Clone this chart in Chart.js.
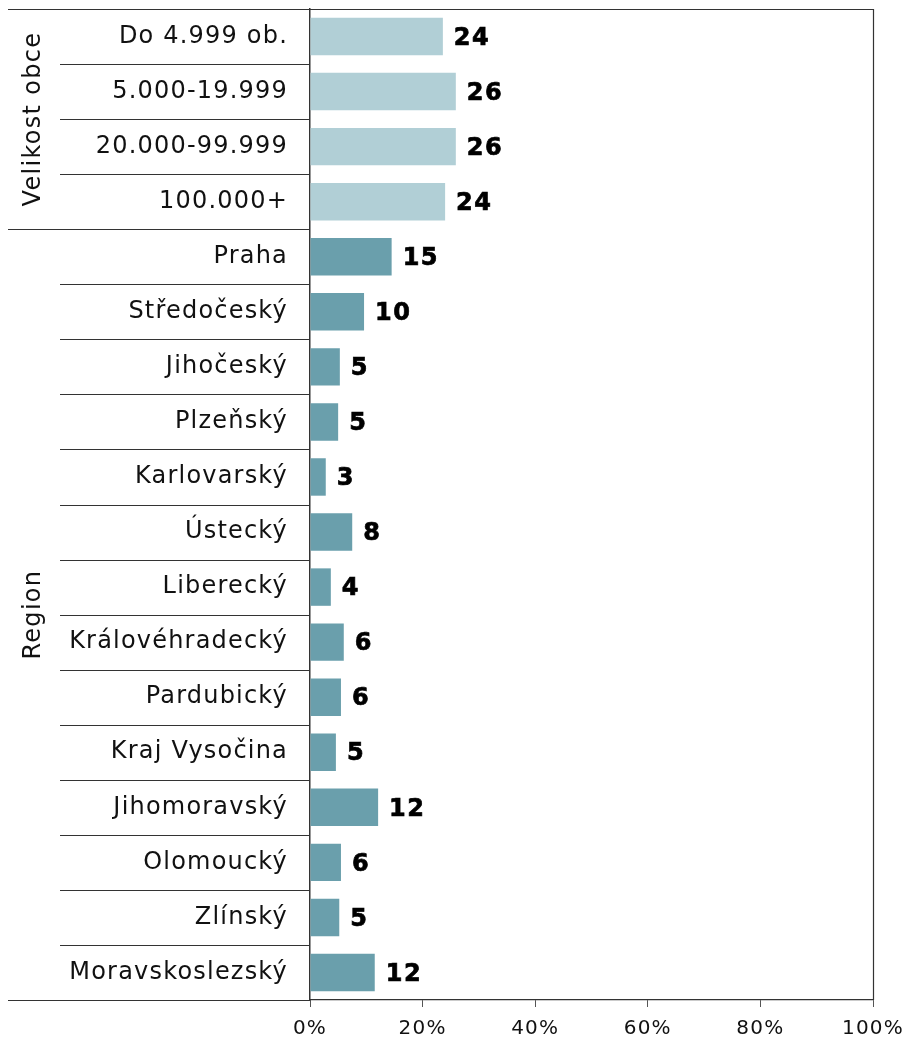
<!DOCTYPE html>
<html>
<head>
<meta charset="utf-8">
<script src="https://cdn.jsdelivr.net/npm/chart.js@4"></script>
<style>
  html, body { margin: 0; padding: 0; background: #fff; }
  #wrap { width: 904px; height: 1042px; }
</style>
</head>
<body>
<div id="wrap"><canvas id="myChart" width="904" height="1042"></canvas></div>
<script>
const categories = [
    "Do 4.999 ob.", "5.000-19.999", "20.000-99.999", "100.000+",
    "Praha", "Středočeský", "Jihočeský", "Plzeňský", "Karlovarský", "Ústecký",
    "Liberecký", "Královéhradecký", "Pardubický", "Kraj Vysočina", "Jihomoravský",
    "Olomoucký", "Zlínský", "Moravskoslezský"
];
const values = [23.6, 25.9, 25.9, 24.0, 14.5, 9.6, 5.3, 5.0, 2.8, 7.5, 3.7, 6.0, 5.5, 4.6, 12.1, 5.5, 5.2, 11.5];
const valueLabels = ["24", "26", "26", "24", "15", "10", "5", "5", "3", "8", "4", "6", "6", "5", "12", "6", "5", "12"];
const groups = [
    { name: "Velikost obce", from: 0, to: 3 },
    { name: "Region", from: 4, to: 17 }
];
const xTicks = [0, 20, 40, 60, 80, 100];

const lightColor = "#b1cfd6";
const darkColor = "#6a9fac";
const FONT = "'DejaVu Sans', Verdana, sans-serif";

const barColors = categories.map((c, i) => i < 4 ? lightColor : darkColor);

// Verdana-ish width: DejaVu with a bit of letter spacing
const spacingPlugin = {
    id: "spacing",
    beforeDraw(chart) {
        chart.ctx.letterSpacing = "1.2px";
    }
};

const framePlugin = {
    id: "frame",
    afterDraw(chart) {
        const ctx = chart.ctx;
        const area = chart.chartArea;
        const y = chart.scales.y;
        const leftEdge = 8;
        ctx.save();
        ctx.strokeStyle = "#333";
        ctx.lineWidth = 1.2;

        // row separators
        for (let i = 1; i < categories.length; i++) {
            const yy = Math.round((y.getPixelForValue(i - 1) + y.getPixelForValue(i)) / 2) + 0.5;
            const isGroupEdge = groups.some(g => g.from === i);
            ctx.beginPath();
            ctx.moveTo(isGroupEdge ? leftEdge : 60, yy);
            ctx.lineTo(area.left, yy);
            ctx.stroke();
        }
        // top, bottom and right frame
        ctx.beginPath();
        ctx.moveTo(leftEdge, area.top + 0.5);
        ctx.lineTo(area.right, area.top + 0.5);
        ctx.moveTo(leftEdge, area.bottom + 0.5);
        ctx.lineTo(area.left, area.bottom + 0.5);
        ctx.moveTo(area.right + 0.5, area.top);
        ctx.lineTo(area.right + 0.5, area.bottom);
        ctx.stroke();

        // group titles
        ctx.fillStyle = "#111";
        ctx.font = "24px " + FONT;
        ctx.letterSpacing = "1.3px";
        ctx.textAlign = "center";
        ctx.textBaseline = "middle";
        groups.forEach(g => {
            const top = g.from === 0 ? area.top :
                (y.getPixelForValue(g.from) + y.getPixelForValue(g.from - 1)) / 2;
            const bottom = g.to === categories.length - 1 ? area.bottom :
                (y.getPixelForValue(g.to) + y.getPixelForValue(g.to + 1)) / 2;
            ctx.save();
            ctx.translate(34, (top + bottom) / 2);
            ctx.rotate(-Math.PI / 2);
            ctx.fillText(g.name, 0, 0);
            ctx.restore();
        });

        // value labels (slight stroke to get closer to Verdana Bold)
        ctx.font = "bold 24px " + FONT;
        ctx.letterSpacing = "1.5px";
        ctx.textAlign = "left";
        ctx.fillStyle = "#000";
        ctx.strokeStyle = "#000";
        ctx.lineWidth = 0.7;
        const meta = chart.getDatasetMeta(0);
        meta.data.forEach((bar, i) => {
            ctx.fillText(valueLabels[i], bar.x + 11, bar.y + 2);
            ctx.strokeText(valueLabels[i], bar.x + 11, bar.y + 2);
        });
        ctx.restore();
    }
};

const ctx = document.getElementById("myChart").getContext("2d");

const myChart = new Chart(ctx, {
    type: "bar",
    data: {
        labels: categories,
        datasets: [
            {
                data: values,
                backgroundColor: barColors,
                borderWidth: 0,
                barPercentage: 0.68,
                categoryPercentage: 1
            }
        ]
    },
    options: {
        indexAxis: "y",
        responsive: false,
        animation: false,
        layout: {
            padding: { left: 8, right: 31, top: 9, bottom: 0 }
        },
        plugins: {
            legend: { display: false },
            tooltip: { enabled: false }
        },
        scales: {
            x: {
                min: 0,
                max: 100,
                afterBuildTicks: (scale) => {
                    scale.ticks = xTicks.map(v => ({ value: v }));
                },
                grid: {
                    drawOnChartArea: false,
                    drawTicks: true,
                    tickLength: 7,
                    color: "#555"
                },
                border: { color: "#333", width: 1.2 },
                ticks: {
                    padding: 10,
                    color: "#111",
                    font: { family: FONT, size: 20 },
                    callback: (v) => v + "%"
                },
                afterFit: (scale) => {
                    scale.height = 42;
                    scale.paddingLeft = 0;
                    scale.paddingRight = 0;
                    scale.paddingTop = 0;
                    scale.paddingBottom = 0;
                }
            },
            y: {
                grid: { display: false, drawTicks: false },
                border: { color: "#333", width: 1.5 },
                ticks: {
                    padding: 22,
                    color: "#111",
                    font: { family: FONT, size: 24 }
                },
                afterFit: (scale) => {
                    scale.width = 302;
                    scale.paddingLeft = 0;
                    scale.paddingRight = 0;
                    scale.paddingTop = 0;
                    scale.paddingBottom = 0;
                }
            }
        }
    },
    plugins: [spacingPlugin, framePlugin]
});
</script>
</body>
</html>
